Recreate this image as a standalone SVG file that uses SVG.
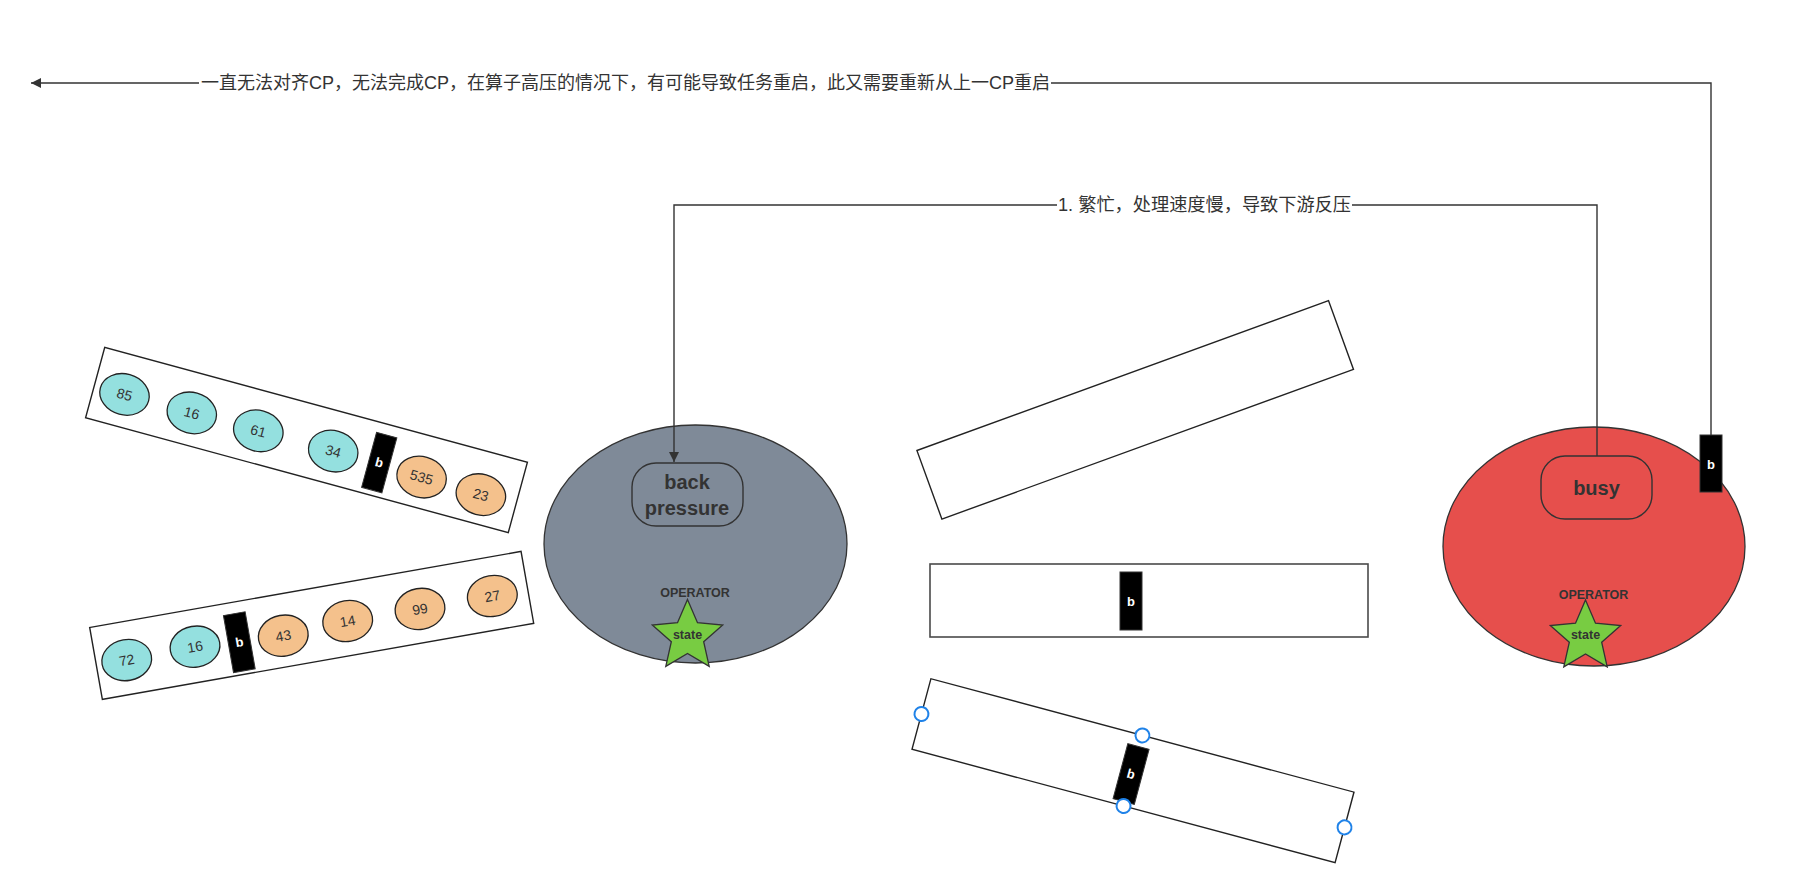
<svg xmlns="http://www.w3.org/2000/svg" width="1804" height="880" viewBox="0 0 1804 880">
<style>
.bg{fill:#ffffff}
.conn{fill:none;stroke:#333333;stroke-width:1.4}
.lbl{font-family:"Liberation Sans","Noto Sans CJK SC",sans-serif;font-size:18px;fill:#333333;dominant-baseline:central}
.box{fill:#ffffff;stroke:#222222;stroke-width:1.4}
.teal{fill:#94e0df;stroke:#222222;stroke-width:1.3}
.orange{fill:#f4c18c;stroke:#222222;stroke-width:1.3}
.num{font-family:"Liberation Sans",Arial,sans-serif;font-size:14px;fill:#333333;text-anchor:middle;dominant-baseline:central}
.blk{fill:#000000;stroke:#333333;stroke-width:1}
.bt{font-family:"Liberation Sans",Arial,sans-serif;font-size:13px;font-weight:bold;fill:#ffffff;text-anchor:middle;dominant-baseline:central}
.inner{fill:none;stroke:#333333;stroke-width:1.4}
.big{font-family:"Liberation Sans",Arial,sans-serif;font-size:20px;font-weight:bold;fill:#333333;text-anchor:middle;dominant-baseline:central}
.op{font-family:"Liberation Sans",Arial,sans-serif;font-size:12.5px;font-weight:bold;fill:#333333;text-anchor:middle;dominant-baseline:central}
.star{fill:#78cc42;stroke:#333333;stroke-width:1.3}
.handle{fill:#ffffff;stroke:#1f82e8;stroke-width:2}
</style>
<defs>
<marker id="arr" markerWidth="12" markerHeight="10" refX="10" refY="5" orient="auto" markerUnits="userSpaceOnUse">
<path d="M0,0 L10,5 L0,10 Z" fill="#333333"/>
</marker>
<path id="starShape" d="M0,-37 L9.99,-13.75 L35.2,-11.4 L16.17,5.25 L21.7,29.9 L0,17 L-21.7,29.9 L-16.17,5.25 L-35.2,-11.4 L-9.99,-13.75 Z"/>
</defs>
<rect class="bg" x="0" y="0" width="1804" height="880"/>

<g id="tray-top-left" transform="translate(306.5 440) rotate(15.2)">
<rect class="box" x="-219" y="-36.5" width="438" height="73"/>
<ellipse class="teal" cx="-187.6" cy="3.7" rx="25" ry="20.5"/><text class="num" x="-187.6" y="3.7">85</text>
<ellipse class="teal" cx="-117.8" cy="3.9" rx="25" ry="20.5"/><text class="num" x="-117.8" y="3.9">16</text>
<ellipse class="teal" cx="-48.9" cy="3.8" rx="25" ry="20.5"/><text class="num" x="-48.9" y="3.8">61</text>
<ellipse class="teal" cx="28.7" cy="3.7" rx="25" ry="20.5"/><text class="num" x="28.7" y="3.7">34</text>
<rect class="blk" x="65.6" y="-25.8" width="21" height="57"/><text class="bt" x="76.1" y="2.7">b</text>
<ellipse class="orange" cx="120.8" cy="5.6" rx="25" ry="20.5"/><text class="num" x="120.8" y="5.6">535</text>
<ellipse class="orange" cx="182.6" cy="7" rx="25" ry="20.5"/><text class="num" x="182.6" y="7">23</text>
</g>

<g id="tray-bottom-left" transform="translate(311.7 625.4) rotate(-10)">
<rect class="box" x="-219" y="-36.5" width="438" height="73"/>
<ellipse class="teal" cx="-188.2" cy="2" rx="25" ry="20.5"/><text class="num" x="-188.2" y="2">72</text>
<ellipse class="teal" cx="-118.6" cy="0.7" rx="25" ry="20.5"/><text class="num" x="-118.6" y="0.7">16</text>
<rect class="blk" x="-85.2" y="-25" width="22" height="58"/><text class="bt" x="-74.2" y="4">b</text>
<ellipse class="orange" cx="-29.8" cy="5.2" rx="25" ry="20.5"/><text class="num" x="-29.8" y="5.2">43</text>
<ellipse class="orange" cx="36.2" cy="1.9" rx="25" ry="20.5"/><text class="num" x="36.2" y="1.9">14</text>
<ellipse class="orange" cx="109.5" cy="2.6" rx="25" ry="20.5"/><text class="num" x="109.5" y="2.6">99</text>
<ellipse class="orange" cx="183" cy="2.4" rx="25" ry="20.5"/><text class="num" x="183" y="2.4">27</text>
</g>

<g id="operator-backpressure">
<ellipse cx="695.5" cy="544" rx="151.5" ry="119" fill="#7f8a98" stroke="#333333" stroke-width="1.3"/>
<rect class="inner" x="632" y="463" width="111" height="63" rx="24"/>
<text class="big" x="687" y="482">back</text>
<text class="big" x="687" y="508">pressure</text>
<text class="op" x="695" y="593">OPERATOR</text>
<use href="#starShape" class="star" transform="translate(687.5 636.5)"/>
<text class="op" x="687.5" y="635">state</text>
</g>

<g id="operator-busy">
<ellipse cx="1594" cy="546.5" rx="151" ry="119.5" fill="#e64f4c" stroke="#333333" stroke-width="1.3"/>
<rect class="inner" x="1541" y="456" width="111" height="63" rx="24"/>
<text class="big" x="1596.5" y="488">busy</text>
<text class="op" x="1593.5" y="595">OPERATOR</text>
<use href="#starShape" class="star" transform="translate(1585.5 637)"/>
<text class="op" x="1585.5" y="635">state</text>
</g>

<g id="barrier-busy">
<rect class="blk" x="1700" y="435" width="22" height="57"/>
<text class="bt" x="1711" y="464">b</text>
</g>

<g id="channel-top" transform="translate(1135.2 409.9) rotate(-20)">
<rect class="box" x="-219" y="-36.5" width="438" height="73"/>
</g>

<g id="channel-middle">
<rect x="930" y="564" width="438" height="73" fill="#ffffff" stroke="#4a4a4a" stroke-width="1.6"/>
<rect class="blk" x="1120" y="572" width="22" height="58"/>
<text class="bt" x="1131" y="601">b</text>
</g>

<g id="channel-bottom" transform="translate(1133 770.7) rotate(15)">
<rect class="box" x="-219" y="-36.5" width="438" height="73"/>
<rect class="blk" x="-12" y="-24.8" width="22" height="57"/>
<text class="bt" x="-1" y="3.7">b</text>
<circle class="handle" cx="-219" cy="0" r="7"/>
<circle class="handle" cx="0" cy="-36.5" r="7"/>
<circle class="handle" cx="0" cy="36.5" r="7"/>
<circle class="handle" cx="219" cy="0" r="7"/>
</g>

<g id="connectors">
<path class="conn" d="M1711,435 L1711,83 L31,83" marker-end="url(#arr)"/>
<rect x="199" y="70" width="852" height="26" fill="#ffffff"/>
<text class="lbl" x="201" y="83">一直无法对齐CP，无法完成CP，在算子高压的情况下，有可能导致任务重启，此又需要重新从上一CP重启</text>
<path class="conn" d="M1597,456 L1597,205 L674,205 L674,462" marker-end="url(#arr)"/>
<rect x="1057" y="192" width="295" height="26" fill="#ffffff"/>
<text class="lbl" x="1058" y="205" textLength="293" lengthAdjust="spacingAndGlyphs">1. 繁忙，处理速度慢，导致下游反压</text>
</g>
</svg>
